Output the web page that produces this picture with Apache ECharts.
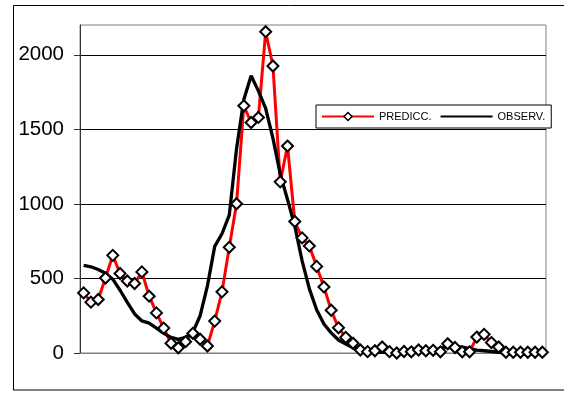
<!DOCTYPE html>
<html>
<head>
<meta charset="utf-8">
<script src="https://cdn.jsdelivr.net/npm/echarts@6/dist/echarts.min.js"></script>
<style>html,body{margin:0;padding:0;background:#fff}#c{width:564px;height:394px}</style>
</head>
<body>
<div id="c"></div>
<script>
var categories = [];
for (var k = 1; k <= 64; k++) categories.push(String(k));

var predicc = [403,341,359,503,655,533,483,466,544,381,
               269,167,65,35,76,132,92,47,214,410,
               709,1001,1658,1546,1580,2155,1925,1148,1388,882,
               772,718,581,443,287,169,105,65,20,9,
               15,40,9,0,10,8,20,15,18,8,
               62,37,8,8,107,125,70,40,5,5,
               5,5,5,5];

var observ = [588,578,560,535,495,421,340,262,215,200,
              167,132,105,91,105,140,250,450,715,800,
              925,1370,1700,1860,1758,1640,1440,1200,1030,850,
              620,430,290,195,135,87,60,35,12,8,
              6,5,5,5,5,5,5,5,5,30,
              45,45,40,30,20,15,10,5,0,0,
              0,0,0,0];

var yTicks = [0,500,1000,1500,2000];

var chart = echarts.init(document.getElementById('c'), null, {renderer:'canvas'});
var font = 'Liberation Sans, Arial, sans-serif';
chart.setOption({
  animation: false,
  backgroundColor: '#fff',
  graphic: [{
    type: 'rect', silent: true, z: -10,
    shape: {x: 13.5, y: 5.5, width: 560, height: 384.5},
    style: {fill: 'none', stroke: '#000', lineWidth: 1}
  }],
  grid: {left: 80, right: 18, top: 25, bottom: 41, show: true, borderColor: '#808080', borderWidth: 1},
  legend: {
    left: 316, top: 105,
    padding: [6, 6, 6, 5],
    backgroundColor: '#fff', borderColor: '#000', borderWidth: 1,
    itemWidth: 52, itemHeight: 10, itemGap: 8,
    textStyle: {fontFamily: font, fontSize: 11, color: '#000'},
    data: [{name: 'PREDICC.', itemStyle: {borderWidth: 1.5}},
           {name: 'OBSERV.', itemStyle: {opacity: 0}}]
  },
  xAxis: {
    type: 'category', data: categories, boundaryGap: true,
    axisLine: {show: true, lineStyle: {color: '#808080', width: 1}},
    axisTick: {show: false}, axisLabel: {show: false}, splitLine: {show: false}
  },
  yAxis: {
    type: 'value', min: 0, max: 2200, interval: 500,
    axisLine: {show: true, lineStyle: {color: '#333', width: 1}},
    axisTick: {show: true, length: 6, inside: false, lineStyle: {color: '#333'}, customValues: yTicks},
    axisLabel: {fontFamily: font, fontSize: 20.5, color: '#000', margin: 16, customValues: yTicks,
                formatter: function (v) { return String(v); }},
    splitLine: {show: true, lineStyle: {color: '#000', width: 1}}
  },
  series: [{
    name: 'PREDICC.', type: 'line', data: predicc, z: 2,
    symbol: 'diamond', symbolSize: 11, showSymbol: true,
    lineStyle: {color: '#ff0000', width: 3},
    itemStyle: {color: '#fff', borderColor: '#000', borderWidth: 2}
  }, {
    name: 'OBSERV.', type: 'line', data: observ, z: 3,
    symbol: 'none',
    lineStyle: {color: '#000', width: 3.3},
    itemStyle: {color: '#000'}
  }, {
    name: 'PREDICC.', type: 'scatter', data: predicc, z: 4,
    symbol: 'diamond', symbolSize: 11,
    itemStyle: {color: '#fff', borderColor: '#000', borderWidth: 2, opacity: 1}
  }]
});
</script>
</body>
</html>
